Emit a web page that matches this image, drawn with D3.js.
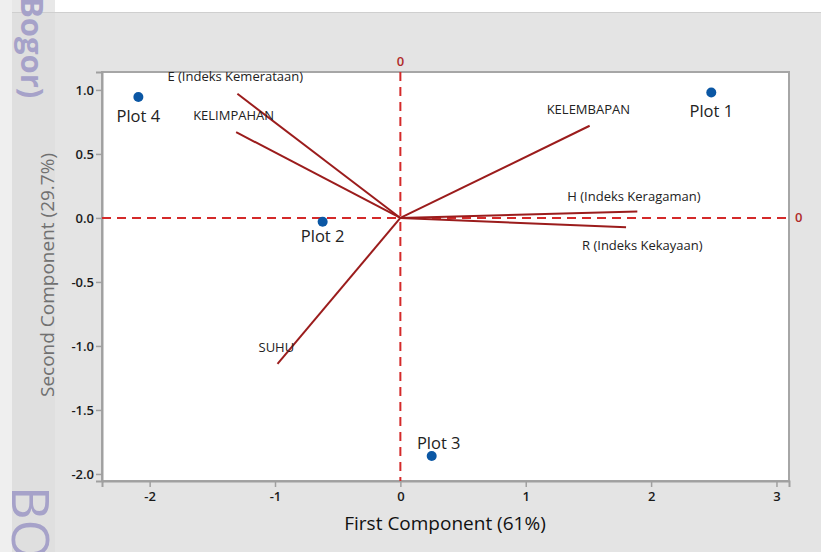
<!DOCTYPE html>
<html>
<head>
<meta charset="utf-8">
<script src="https://cdn.jsdelivr.net/npm/d3@7"></script>
<style>
  body { margin: 0; background: #e4e4e4; }
  svg { display: block; }
</style>
</head>
<body>
<div id="biplot"></div>
<script>
// scores of the plots (first / second component)
var plotNames = ["Plot 1", "Plot 2", "Plot 3", "Plot 4"];
var plotPC1 = [2.48, -0.62, 0.25, -2.09];
var plotPC2 = [0.98, -0.03, -1.86, 0.945];

// loadings of the variables
var varNames = ["E (Indeks Kemerataan)", "KELIMPAHAN", "KELEMBAPAN",
                "H (Indeks Keragaman)", "R (Indeks Kekayaan)", "SUHU"];
var varPC1 = [-1.30, -1.31, 1.51, 1.89, 1.80, -0.98];
var varPC2 = [0.97, 0.67, 0.72, 0.05, -0.073, -1.14];

var xTicks = [-2, -1, 0, 1, 2, 3];
var yTicks = [1.0, 0.5, 0.0, -0.5, -1.0, -1.5, -2.0];

var W = 821, H = 552;
var margin = {top: 72, right: 32, bottom: 71, left: 102};
var width = W - margin.left - margin.right;
var height = H - margin.top - margin.bottom;
var font = "'Open Sans', 'Noto Sans', sans-serif";

var svg = d3.select("#biplot")
  .append("svg")
    .attr("width", W)
    .attr("height", H)
    .style("font-family", font);

// page background bits
svg.append("rect").attr("width", W).attr("height", H).attr("fill", "#e4e4e4");
svg.append("rect").attr("x", 55).attr("width", W - 55).attr("height", 12).attr("fill", "#ffffff");
svg.append("rect").attr("width", 12).attr("height", H).attr("fill", "#efefef");
svg.append("rect").attr("x", 12).attr("width", 43).attr("height", 12).attr("fill", "#e8e8e8");
svg.append("rect").attr("x", 12).attr("y", 12).attr("width", 43).attr("height", H - 12).attr("fill", "#dfdfdf");
svg.append("line").attr("x1", 12).attr("x2", W).attr("y1", 12.5).attr("y2", 12.5)
  .attr("stroke", "#cfcfcf");

// watermark (cut at the edges like in the screenshot)
svg.append("text")
    .attr("transform", "translate(21,-3) rotate(90)")
    .attr("font-size", 31)
    .attr("font-weight", "bold")
    .attr("fill", "#a6a2c9")
    .text("Bogor)");
svg.append("text")
    .attr("transform", "translate(12,486) rotate(90)")
    .attr("font-size", 52)
    .attr("fill", "#a6a2c9")
    .text("BO");

var g = svg.append("g")
    .attr("transform", "translate(" + margin.left + "," + margin.top + ")");

var x = d3.scaleLinear().domain([-2.38, 3.1]).range([0, width]);
var y = d3.scaleLinear().domain([-2.055, 1.14]).range([height, 0]);

// plot area
g.append("rect")
    .attr("width", width)
    .attr("height", height)
    .attr("fill", "#ffffff")
    .attr("stroke", "#a6a6a6")
    .attr("stroke-width", 2);

// axes
var xAxis = g.append("g")
    .attr("transform", "translate(0," + height + ")")
    .call(d3.axisBottom(x).tickValues(xTicks).tickSize(6).tickPadding(5));
var yAxis = g.append("g")
    .call(d3.axisLeft(y).tickValues(yTicks).tickSize(6).tickPadding(2));
[xAxis, yAxis].forEach(function(a) {
  a.select(".domain").attr("stroke", "#a0a0a0").attr("stroke-width", 2);
  a.selectAll(".tick line").attr("stroke", "#a0a0a0").attr("stroke-width", 1.5);
  a.selectAll(".tick text")
    .attr("fill", "#1a1a1a")
    .attr("font-size", 13)
    .attr("font-weight", 600)
    .attr("font-family", font)
    .text(function(d) { return d3.format(a === xAxis ? "d" : ".1f")(d).replace("\u2212", "-"); });
});

// reference lines at zero
g.append("line")
    .attr("x1", x(0)).attr("x2", x(0))
    .attr("y1", 0).attr("y2", height)
    .attr("stroke", "#d42a2a").attr("stroke-width", 2).attr("stroke-dasharray", "9,6");
g.append("line")
    .attr("x1", 0).attr("x2", width)
    .attr("y1", y(0)).attr("y2", y(0))
    .attr("stroke", "#d42a2a").attr("stroke-width", 2).attr("stroke-dasharray", "9,6");
g.append("text")
    .attr("x", x(0)).attr("y", -6)
    .attr("text-anchor", "middle")
    .attr("font-size", 13).attr("font-weight", 600)
    .attr("fill", "#b02a2a")
    .text("0");
g.append("text")
    .attr("x", width + 6).attr("y", y(0) + 4.5)
    .attr("font-size", 13).attr("font-weight", 600)
    .attr("fill", "#b02a2a")
    .text("0");

// loading vectors
var vars = varNames.map(function(n, i) { return {name: n, pc1: varPC1[i], pc2: varPC2[i]}; });
var varLabelOffset = [[-70, -13], [-43, -12], [-43, -12], [-70, -11], [-44, 23], [-19, -12]];

g.selectAll(".vec")
  .data(vars)
  .enter()
  .append("line")
    .attr("x1", x(0)).attr("y1", y(0))
    .attr("x2", function(d) { return x(d.pc1); })
    .attr("y2", function(d) { return y(d.pc2); })
    .attr("stroke", "#9b1c1c")
    .attr("stroke-width", 2);

g.selectAll(".vlab")
  .data(vars)
  .enter()
  .append("text")
    .attr("x", function(d, i) { return x(d.pc1) + varLabelOffset[i][0]; })
    .attr("y", function(d, i) { return y(d.pc2) + varLabelOffset[i][1]; })
    .attr("font-size", 13)
    .attr("fill", "#222222")
    .text(function(d) { return d.name; });

// plot scores
var plots = plotNames.map(function(n, i) { return {name: n, pc1: plotPC1[i], pc2: plotPC2[i]}; });
var plotLabelOffset = [[0, 25], [0, 20], [7, -7], [0, 25]];

g.selectAll(".dot")
  .data(plots)
  .enter()
  .append("circle")
    .attr("cx", function(d) { return x(d.pc1); })
    .attr("cy", function(d) { return y(d.pc2); })
    .attr("r", 5)
    .attr("fill", "#0b57a4");

g.selectAll(".plab")
  .data(plots)
  .enter()
  .append("text")
    .attr("x", function(d, i) { return x(d.pc1) + plotLabelOffset[i][0]; })
    .attr("y", function(d, i) { return y(d.pc2) + plotLabelOffset[i][1]; })
    .attr("text-anchor", "middle")
    .attr("font-size", 16.5)
    .attr("fill", "#222222")
    .text(function(d) { return d.name; });

// axis titles
svg.append("text")
    .attr("x", 445).attr("y", 530)
    .attr("text-anchor", "middle")
    .attr("font-size", 19)
    .attr("font-weight", 500)
    .attr("fill", "#111111")
    .text("First Component (61%)");
svg.append("text")
    .attr("transform", "translate(54,275) rotate(-90)")
    .attr("text-anchor", "middle")
    .attr("font-size", 19)
    .attr("fill", "#707070")
    .text("Second Component (29.7%)");
</script>
</body>
</html>
